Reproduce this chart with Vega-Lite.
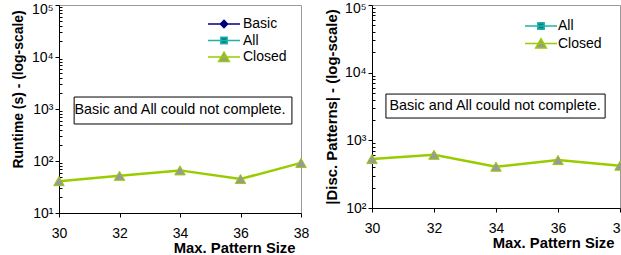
{
  "$schema": "https://vega.github.io/schema/vega-lite/v6.json",
  "padding": {"left": 10, "top": 0, "right": 0, "bottom": 0},
  "config": {
    "font": "Liberation Sans",
    "view": {"stroke": "#999999", "strokeWidth": 1},
    "axis": {"grid": false, "domainColor": "#000000", "tickColor": "#000000", "labelColor": "#000000", "titleColor": "#000000", "labelFontSize": 14, "titleFontSize": 13, "titleFontWeight": "bold", "labelFont": "Liberation Sans", "titleFont": "Liberation Sans"},
    "legend": {"labelFontSize": 14, "labelColor": "#000000", "labelFont": "Liberation Sans"}
  },
  "datasets": {
    "runtime": [
      {"size": 30, "value": 41, "series": "Closed"},
      {"size": 32, "value": 52, "series": "Closed"},
      {"size": 34, "value": 66, "series": "Closed"},
      {"size": 36, "value": 45, "series": "Closed"},
      {"size": 38, "value": 92, "series": "Closed"}
    ],
    "patterns": [
      {"size": 30, "value": 530, "series": "Closed"},
      {"size": 32, "value": 612, "series": "Closed"},
      {"size": 34, "value": 408, "series": "Closed"},
      {"size": 36, "value": 512, "series": "Closed"},
      {"size": 38, "value": 422, "series": "Closed"}
    ],
    "legend3": [
      {"series": "Basic"},
      {"series": "All"},
      {"series": "Closed"}
    ],
    "legend2": [
      {"series": "All"},
      {"series": "Closed"}
    ]
  },
  "hconcat": [
    {
      "width": 242,
      "height": 208,
      "layer": [
        {
          "data": {"values": [{}]},
          "mark": {"type": "rect", "fill": "white", "stroke": "black", "strokeWidth": 1},
          "encoding": {
            "x": {"datum": 30.5, "type": "quantitative"},
            "x2": {"datum": 37.7},
            "y": {"datum": 1700, "type": "quantitative"},
            "y2": {"datum": 515}
          }
        },
        {
          "data": {"values": [{}]},
          "mark": {"type": "text", "text": "Basic and All could not complete.", "fontSize": 14.4, "font": "Liberation Sans", "color": "black"},
          "encoding": {
            "x": {"datum": 34, "type": "quantitative"},
            "y": {"datum": 955, "type": "quantitative"}
          }
        },
        {
          "data": {"name": "runtime"},
          "mark": {"type": "line", "color": "#99CC00", "strokeWidth": 2.5},
          "encoding": {
            "x": {"field": "size", "type": "quantitative", "scale": {"domain": [30, 38], "nice": false, "zero": false},
              "axis": {"values": [30, 32, 34, 36, 38], "title": "Max. Pattern Size", "titleFontSize": 14.8, "titleX": 236, "titleAlign": "right", "titlePadding": 0, "labelPadding": 9, "tickSize": 4, "labelFlush": false}},
            "y": {"field": "value", "type": "quantitative", "scale": {"type": "log", "domain": [10, 100000], "nice": false},
              "axis": {
                "title": "Runtime (s) - (log-scale)",
                "titleFontSize": 13.9,
                "titleY": 84,
                "values": [10,20,30,40,50,60,70,80,90,100,200,300,400,500,600,700,800,900,1000,2000,3000,4000,5000,6000,7000,8000,9000,10000,20000,30000,40000,50000,60000,70000,80000,90000,100000],
                "labelExpr": "datum.value == 10 ? '10¹' : datum.value == 100 ? '10²' : datum.value == 1000 ? '10³' : datum.value == 10000 ? '10⁴' : datum.value == 100000 ? '10⁵' : ''",
                "labelOffset": {"condition": {"test": "datum.value == 100000", "value": 4}, "value": 0},
                "tickSize": {"condition": {"test": "datum.value == 10 || datum.value == 100 || datum.value == 1000 || datum.value == 10000 || datum.value == 100000", "value": 4}, "value": -3},
                "labelPadding": 2,
                "titlePadding": 6
              }}
          }
        },
        {
          "data": {"name": "runtime"},
          "mark": {"type": "point", "shape": "triangle-up", "filled": true, "fill": "#999999", "stroke": "#99CC00", "strokeWidth": 1, "size": 110, "opacity": 1},
          "encoding": {
            "x": {"field": "size", "type": "quantitative"},
            "y": {"field": "value", "type": "quantitative"}
          }
        },
        {
          "data": {"name": "legend3"},
          "mark": {"type": "point", "filled": true, "opacity": 1, "strokeWidth": 1.5},
          "encoding": {
            "x": {"field": "size", "type": "quantitative"},
            "y": {"field": "value", "type": "quantitative"},
            "shape": {"field": "series", "type": "nominal", "scale": {"domain": ["Basic", "All", "Closed"], "range": ["M-2,0H2M0,-0.45L0.45,0L0,0.45L-0.45,0Z", "M-2,0H2M-0.4,-0.4H0.4V0.4H-0.4Z", "M-2,0H2M0,-0.6L0.66,0.55H-0.66Z"]},
              "legend": {"title": null, "orient": "none", "legendX": 156, "legendY": 10, "symbolSize": 256, "symbolStrokeWidth": 1.5, "labelOffset": 10, "rowPadding": 0.5}},
            "fill": {"field": "series", "type": "nominal", "scale": {"domain": ["Basic", "All", "Closed"], "range": ["#000080", "#008080", "#999999"]}},
            "stroke": {"field": "series", "type": "nominal", "scale": {"domain": ["Basic", "All", "Closed"], "range": ["#000080", "#20B2AA", "#99CC00"]}}
          }
        }
      ]
    },
    {
      "width": 248,
      "height": 203,
      "layer": [
        {
          "data": {"values": [{}]},
          "mark": {"type": "rect", "fill": "white", "stroke": "black", "strokeWidth": 1},
          "encoding": {
            "x": {"datum": 30.45, "type": "quantitative"},
            "x2": {"datum": 37.52},
            "y": {"datum": 4830, "type": "quantitative"},
            "y2": {"datum": 2136}
          }
        },
        {
          "data": {"values": [{}]},
          "mark": {"type": "text", "text": "Basic and All could not complete.", "fontSize": 14.4, "font": "Liberation Sans", "color": "black"},
          "encoding": {
            "x": {"datum": 33.97, "type": "quantitative"},
            "y": {"datum": 3210, "type": "quantitative"}
          }
        },
        {
          "data": {"name": "patterns"},
          "mark": {"type": "line", "color": "#99CC00", "strokeWidth": 2.5},
          "encoding": {
            "x": {"field": "size", "type": "quantitative", "scale": {"domain": [30, 38], "nice": false, "zero": false},
              "axis": {"values": [30, 32, 34, 36, 38], "title": "Max. Pattern Size", "titleFontSize": 14.8, "titleX": 242, "titleAlign": "right", "titlePadding": 0, "labelPadding": 9, "tickSize": 4, "labelFlush": false}},
            "y": {"field": "value", "type": "quantitative", "scale": {"type": "log", "domain": [100, 100000], "nice": false},
              "axis": {
                "title": "|Disc. Patterns| - (log-scale)",
                "titleFontSize": 14.9,
                "values": [100,200,300,400,500,600,700,800,900,1000,2000,3000,4000,5000,6000,7000,8000,9000,10000,20000,30000,40000,50000,60000,70000,80000,90000,100000],
                "labelExpr": "datum.value == 100 ? '10²' : datum.value == 1000 ? '10³' : datum.value == 10000 ? '10⁴' : datum.value == 100000 ? '10⁵' : ''",
                "labelOffset": {"condition": {"test": "datum.value == 100000", "value": 3}, "value": 0},
                "tickSize": {"condition": {"test": "datum.value == 100 || datum.value == 1000 || datum.value == 10000 || datum.value == 100000", "value": 4}, "value": -3},
                "labelPadding": 2,
                "titlePadding": 5
              }}
          }
        },
        {
          "data": {"name": "patterns"},
          "mark": {"type": "point", "shape": "triangle-up", "filled": true, "fill": "#999999", "stroke": "#99CC00", "strokeWidth": 1, "size": 110, "opacity": 1},
          "encoding": {
            "x": {"field": "size", "type": "quantitative"},
            "y": {"field": "value", "type": "quantitative"}
          }
        },
        {
          "data": {"name": "legend2"},
          "mark": {"type": "point", "filled": true, "opacity": 1, "strokeWidth": 1.5},
          "encoding": {
            "x": {"field": "size", "type": "quantitative"},
            "y": {"field": "value", "type": "quantitative"},
            "shape": {"field": "series", "type": "nominal", "scale": {"domain": ["All", "Closed"], "range": ["M-2,0H2M-0.4,-0.4H0.4V0.4H-0.4Z", "M-2,0H2M0,-0.6L0.66,0.55H-0.66Z"]},
              "legend": {"title": null, "orient": "none", "legendX": 160, "legendY": 12, "symbolSize": 256, "symbolStrokeWidth": 1.5, "labelOffset": 8, "rowPadding": 1.5}},
            "fill": {"field": "series", "type": "nominal", "scale": {"domain": ["All", "Closed"], "range": ["#008080", "#999999"]}},
            "stroke": {"field": "series", "type": "nominal", "scale": {"domain": ["All", "Closed"], "range": ["#20B2AA", "#99CC00"]}}
          }
        }
      ]
    }
  ],
  "spacing": 13,
  "resolve": {
    "scale": {"shape": "independent", "fill": "independent", "stroke": "independent"},
    "legend": {"shape": "independent", "fill": "independent", "stroke": "independent"}
  }
}
